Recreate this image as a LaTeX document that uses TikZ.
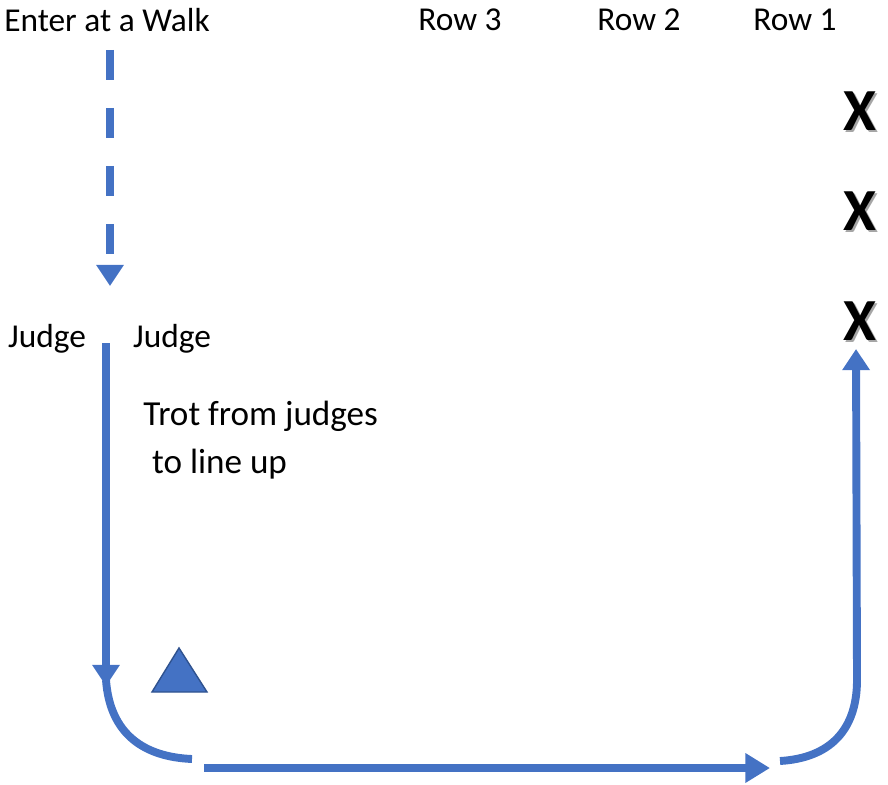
\documentclass[tikz,border=0pt]{standalone}
\usepackage{fontspec}
\setmainfont{Carlito}
\usetikzlibrary{arrows.meta}
\definecolor{ringblue}{HTML}{4472C4}
\definecolor{ringedge}{HTML}{2F528F}
\tikzset{
  lbl/.style={font=\fontsize{19}{23}\selectfont, inner sep=0pt},
  xmark/.style={font=\fontsize{34}{38}\selectfont\bfseries, inner sep=0pt},
  xshade/.style={xmark, text=black!35},
  route/.style={draw=ringblue, line width=4.5pt},
  tip/.style={-{Triangle[width=15pt,length=12pt]}},
}
\begin{document}
\begin{tikzpicture}[x=0.02cm,y=-0.02cm]
\useasboundingbox (0,0) rectangle (888,784);
% headings
\node[lbl] (enter) at (107,20) {Enter at a Walk};
\node[lbl] (row3) at (460,20) {Row 3};
\node[lbl] (row2) at (639,20) {Row 2};
\node[lbl] (row1) at (795,20) {Row 1};
\node[lbl] (judgeL) at (47,339) {Judge};
\node[lbl] (judgeR) at (172,339) {Judge};
\node[lbl, font=\fontsize{20}{27}\selectfont, anchor=north west, align=left] (trot) at (143,401)
  {Trot from judges\\\hspace*{0.25em}to line up};
% line up places
\foreach \y [count=\i] in {111,211,321}{
  \node[xshade] at (862,\y+2) {X};
  \node[xmark] (x\i) at (860,\y) {X};
}
% route
\coordinate (walkTop) at (110,50);
\coordinate (walkEnd) at (110,286);
\coordinate (trotTop) at (106,343);
\coordinate (trotEnd) at (106,686);
\coordinate (bendA) at (106,680);
\coordinate (bendB) at (192,759);
\coordinate (lineL) at (204,768);
\coordinate (lineR) at (770,768);
\coordinate (bendC) at (780,761);
\coordinate (bendD) at (857,680);
\coordinate (upEnd) at (856,349);
\draw[route, tip, dash pattern=on 17pt off 16pt] (walkTop) -- (walkEnd);
\draw[route, tip] (trotTop) -- (trotEnd);
\draw[route] (bendA) .. controls (110,735) and (145,757) .. (bendB);
\draw[route, -{Triangle[width=16pt,length=14pt]}] (lineL) -- (lineR);
\draw[route, tip] (bendC) .. controls (830,758) and (857,730) .. (bendD) -- (upEnd);
% judge marker
\filldraw[fill=ringblue, draw=ringedge, line width=0.8pt] (179,648) -- (207,692) -- (152,692) -- cycle;
\end{tikzpicture}
\end{document}
